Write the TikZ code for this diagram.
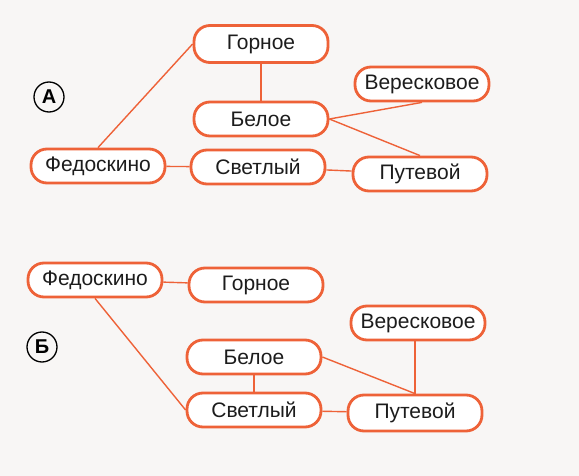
\documentclass[tikz,border=0pt]{standalone}
\usepackage{fontspec}
\setmainfont{Liberation Sans}
\usetikzlibrary{positioning}
\definecolor{graphorange}{RGB}{238,98,56}
\definecolor{pagegray}{RGB}{248,246,245}
\definecolor{inkgray}{RGB}{28,28,28}

\tikzset{
    town/.style={draw=graphorange, line width=2.8pt, fill=white, rounded corners=16pt,
        minimum width=134pt, minimum height=34pt, inner sep=0pt,
        font=\fontsize{21}{22}\selectfont, text=inkgray},
    road/.style={draw=graphorange, line width=1.4pt},
    badge/.style={draw=black, circle, line width=1.3pt, minimum size=30pt, inner sep=0pt,
        font=\fontsize{20}{21}\selectfont\bfseries}
}

\begin{document}
\begin{tikzpicture}[x=1pt, y=-1pt]
        % Page
        \fill[pagegray] (0,0) rectangle (579,476);

        % Graph A
        \node[badge] (labA) at (49,97) {А};
        \node[town, minimum height=37pt] (gorA) at (261,44) {Горное};
        \node[town] (verA) at (422,84) {Вересковое};
        \node[town] (belA) at (261,119) {Белое};
        \node[town] (fedA) at (98,166) {Федоскино};
        \node[town] (svA) at (258,167) {Светлый};
        \node[town] (putA) at (420,174) {Путевой};

        \draw[road] (fedA.north) -- (gorA.west);
        \draw[road] (gorA.south) -- (belA.north);
        \draw[road] (belA.east) -- (verA.south);
        \draw[road] (belA.east) -- (putA.north);
        \draw[road] (fedA) -- (svA);
        \draw[road] (svA) -- (putA);

        % Graph B
        \node[badge] (labB) at (42,347) {Б};
        \node[town] (fedB) at (95,280) {Федоскино};
        \node[town] (gorB) at (256,285) {Горное};
        \node[town] (verB) at (418,323) {Вересковое};
        \node[town] (belB) at (254,357) {Белое};
        \node[town] (svB) at (254,410) {Светлый};
        \node[town, minimum height=36pt] (putB) at (415,413) {Путевой};

        \draw[road] (fedB) -- (gorB);
        \draw[road] (fedB.south) -- (svB.west);
        \draw[road] (belB.south) -- (svB.north);
        \draw[road] (belB.east) -- (putB.north);
        \draw[road] (putB.north |- verB.south) -- (putB.north);
        \draw[road] (svB) -- (putB);
    \end{tikzpicture}
\end{document}
